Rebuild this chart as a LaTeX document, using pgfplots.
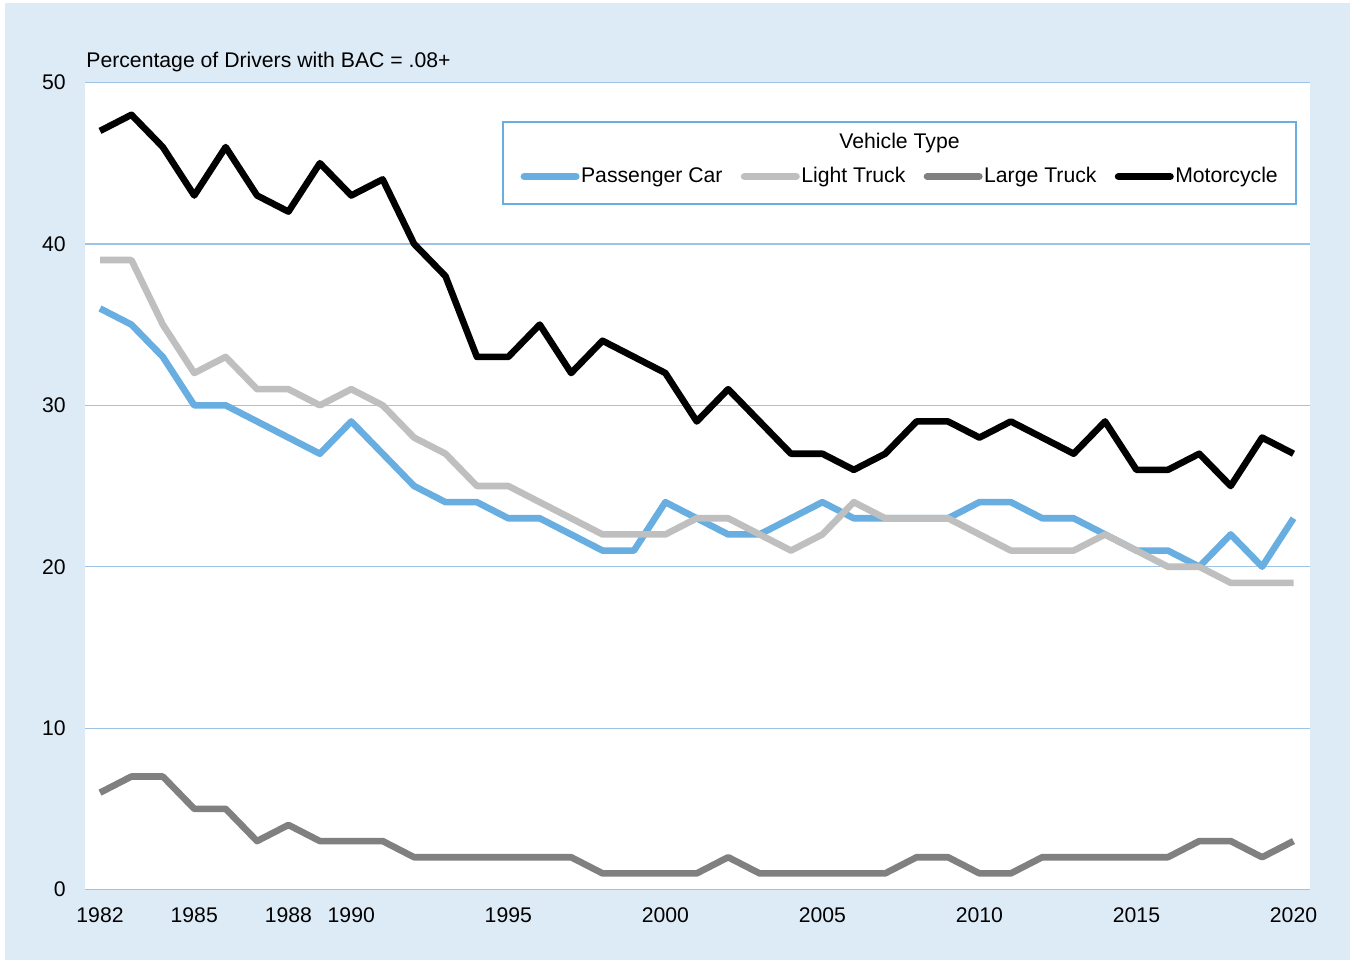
\documentclass[border=0pt]{standalone}
\usepackage{fontspec}
\setmainfont{Liberation Sans}
\usepackage{pgfplots}
\pgfplotsset{compat=1.18}
\definecolor{bgblue}{RGB}{221,235,247}
\definecolor{gridblue}{RGB}{157,195,230}
\definecolor{carblue}{RGB}{104,174,224}
\definecolor{ltgray}{RGB}{191,191,191}
\definecolor{lggray}{RGB}{128,128,128}
\definecolor{legborder}{RGB}{104,174,224}
\newcommand{\cf}{\fontsize{10.6}{12.7}\selectfont}
\begin{document}
\cf
\begin{tikzpicture}
\fill[white] (-42.5pt,-35.25pt) rectangle (632.5pt,444.75pt);
\fill[bgblue] (-40pt,-35.25pt) rectangle (632.5pt,443.25pt);
\begin{axis}[
  at={(0pt,0pt)}, anchor=south west,
  scale only axis, width=612.25pt, height=403.5pt,
  xmin=1981.522, xmax=2020.509, ymin=0, ymax=50,
  xtick={1982,1985,1988,1990,1995,2000,2005,2010,2015,2020},
  ytick={0,10,20,30,40,50},
  xticklabel style={inner sep=0pt, yshift=-8.75pt},
  yticklabel style={inner sep=0pt, xshift=-9.5pt},
  major tick length=0pt,
  axis line style={draw=none},
  ymajorgrids, grid style={gridblue, line width=0.6pt},
  axis background/.style={fill=white},
  /pgf/number format/assume math mode=true,
  /pgf/number format/1000 sep={},
  tick label style={font=\cf},
  legend columns=4,
  legend cell align=left,
  legend style={at={(0.35541,0.8835)}, anchor=west, draw=none, fill=none,
    inner sep=0pt, font=\cf, nodes={inner xsep=0.75pt, inner ysep=0pt},
    /tikz/every even column/.append style={column sep=8.4pt}},
  legend image code/.code={\draw[#1, line width=3.6pt, line cap=round] (1.8pt,0pt) -- (27.7pt,0pt);},
  every axis plot/.append style={line width=3.3pt, line join=round},
]
\addplot[carblue] coordinates {
(1982,36) (1983,35) (1984,33) (1985,30) (1986,30) (1987,29) (1988,28) (1989,27) (1990,29) (1991,27)
(1992,25) (1993,24) (1994,24) (1995,23) (1996,23) (1997,22) (1998,21) (1999,21) (2000,24) (2001,23)
(2002,22) (2003,22) (2004,23) (2005,24) (2006,23) (2007,23) (2008,23) (2009,23) (2010,24) (2011,24)
(2012,23) (2013,23) (2014,22) (2015,21) (2016,21) (2017,20) (2018,22) (2019,20) (2020,23)};
\addlegendentry{Passenger Car}
\addplot[ltgray] coordinates {
(1982,39) (1983,39) (1984,35) (1985,32) (1986,33) (1987,31) (1988,31) (1989,30) (1990,31) (1991,30)
(1992,28) (1993,27) (1994,25) (1995,25) (1996,24) (1997,23) (1998,22) (1999,22) (2000,22) (2001,23)
(2002,23) (2003,22) (2004,21) (2005,22) (2006,24) (2007,23) (2008,23) (2009,23) (2010,22) (2011,21)
(2012,21) (2013,21) (2014,22) (2015,21) (2016,20) (2017,20) (2018,19) (2019,19) (2020,19)};
\addlegendentry{Light Truck}
\addplot[lggray] coordinates {
(1982,6) (1983,7) (1984,7) (1985,5) (1986,5) (1987,3) (1988,4) (1989,3) (1990,3) (1991,3)
(1992,2) (1993,2) (1994,2) (1995,2) (1996,2) (1997,2) (1998,1) (1999,1) (2000,1) (2001,1)
(2002,2) (2003,1) (2004,1) (2005,1) (2006,1) (2007,1) (2008,2) (2009,2) (2010,1) (2011,1)
(2012,2) (2013,2) (2014,2) (2015,2) (2016,2) (2017,3) (2018,3) (2019,2) (2020,3)};
\addlegendentry{Large Truck}
\addplot[black] coordinates {
(1982,47) (1983,48) (1984,46) (1985,43) (1986,46) (1987,43) (1988,42) (1989,45) (1990,43) (1991,44)
(1992,40) (1993,38) (1994,33) (1995,33) (1996,35) (1997,32) (1998,34) (1999,33) (2000,32) (2001,29)
(2002,31) (2003,29) (2004,27) (2005,27) (2006,26) (2007,27) (2008,29) (2009,29) (2010,28) (2011,29)
(2012,28) (2013,27) (2014,29) (2015,26) (2016,26) (2017,27) (2018,25) (2019,28) (2020,27)};
\addlegendentry{Motorcycle}
\end{axis}
\draw[legborder, line width=1pt] (209pt,342.75pt) rectangle (605.5pt,383.75pt);
\node[anchor=base, inner sep=0pt, font=\cf] at (407.25pt,370.25pt) {Vehicle Type};
\node[anchor=base west, inner sep=0pt, font=\cf] at (0.5pt,410.75pt) {Percentage of Drivers with BAC = .08+};
\pgfresetboundingbox
\path[use as bounding box] (-42.5pt,-35.25pt) rectangle (632.5pt,444.75pt);
\end{tikzpicture}
\end{document}
